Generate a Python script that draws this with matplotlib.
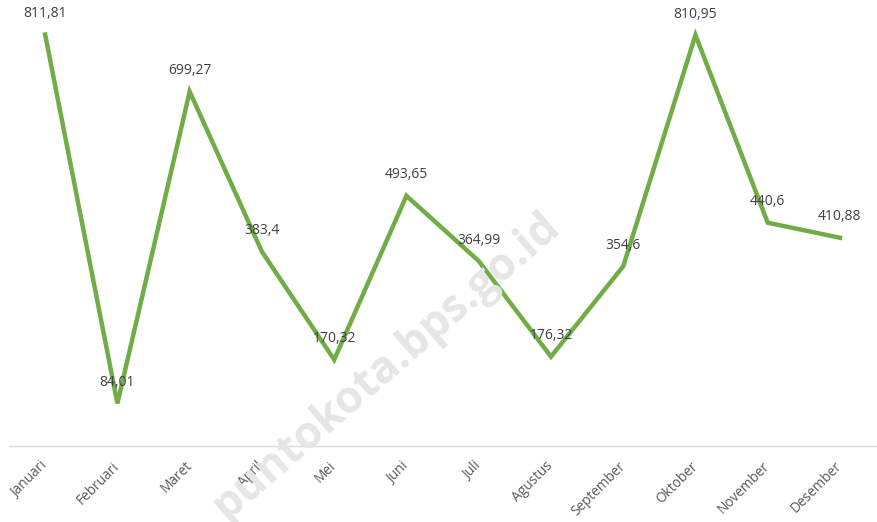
import matplotlib
matplotlib.use("Agg")
import matplotlib.pyplot as plt

months = ["Januari", "Februari", "Maret", "April", "Mei", "Juni", "Juli",
          "Agustus", "September", "Oktober", "November", "Desember"]
values = [811.81, 84.01, 699.27, 383.4, 170.32, 493.65, 364.99,
          176.32, 354.6, 810.95, 440.6, 410.88]
labels = ["811,81", "84,01", "699,27", "383,4", "170,32", "493,65", "364,99",
          "176,32", "354,6", "810,95", "440,6", "410,88"]

plt.rcParams['font.family'] = ['Open Sans', 'DejaVu Sans']

fig = plt.figure(figsize=(8.77, 5.22), dpi=100)
ax = fig.add_axes([0.0103, 0.1456, 0.9887, 0.8544])
ax.patch.set_alpha(0)

x = list(range(len(months)))
ax.plot(x, values, color="#70AD47", lw=3.2, solid_joinstyle="miter", zorder=3)

for xi, v, lab in zip(x, values, labels):
    ax.annotate(lab, (xi, v), xytext=(0, 15), textcoords="offset points",
                ha="center", va="center", fontsize=10, color="#404040", zorder=4)

ax.set_xlim(-0.5, len(months) - 0.5)
ax.set_ylim(0, 880)
ax.set_yticks([])
ax.set_xticks(x)
ax.set_xticklabels(months, rotation=45, ha="right", va="center",
                   rotation_mode="anchor", fontsize=9.8, color="#595959")
ax.tick_params(axis="x", length=0, pad=13)
for s in ["top", "right", "left"]:
    ax.spines[s].set_visible(False)
ax.spines["bottom"].set_color("#D9D9D9")
ax.spines["bottom"].set_linewidth(1)

fig.text(386 / 877, 1 - 366 / 522, "puntokota.bps.go.id", rotation=41,
         ha="center", va="center", fontsize=32, fontweight="bold",
         color="#E6E6E6", zorder=0)

fig.savefig("out.png", dpi=100)
